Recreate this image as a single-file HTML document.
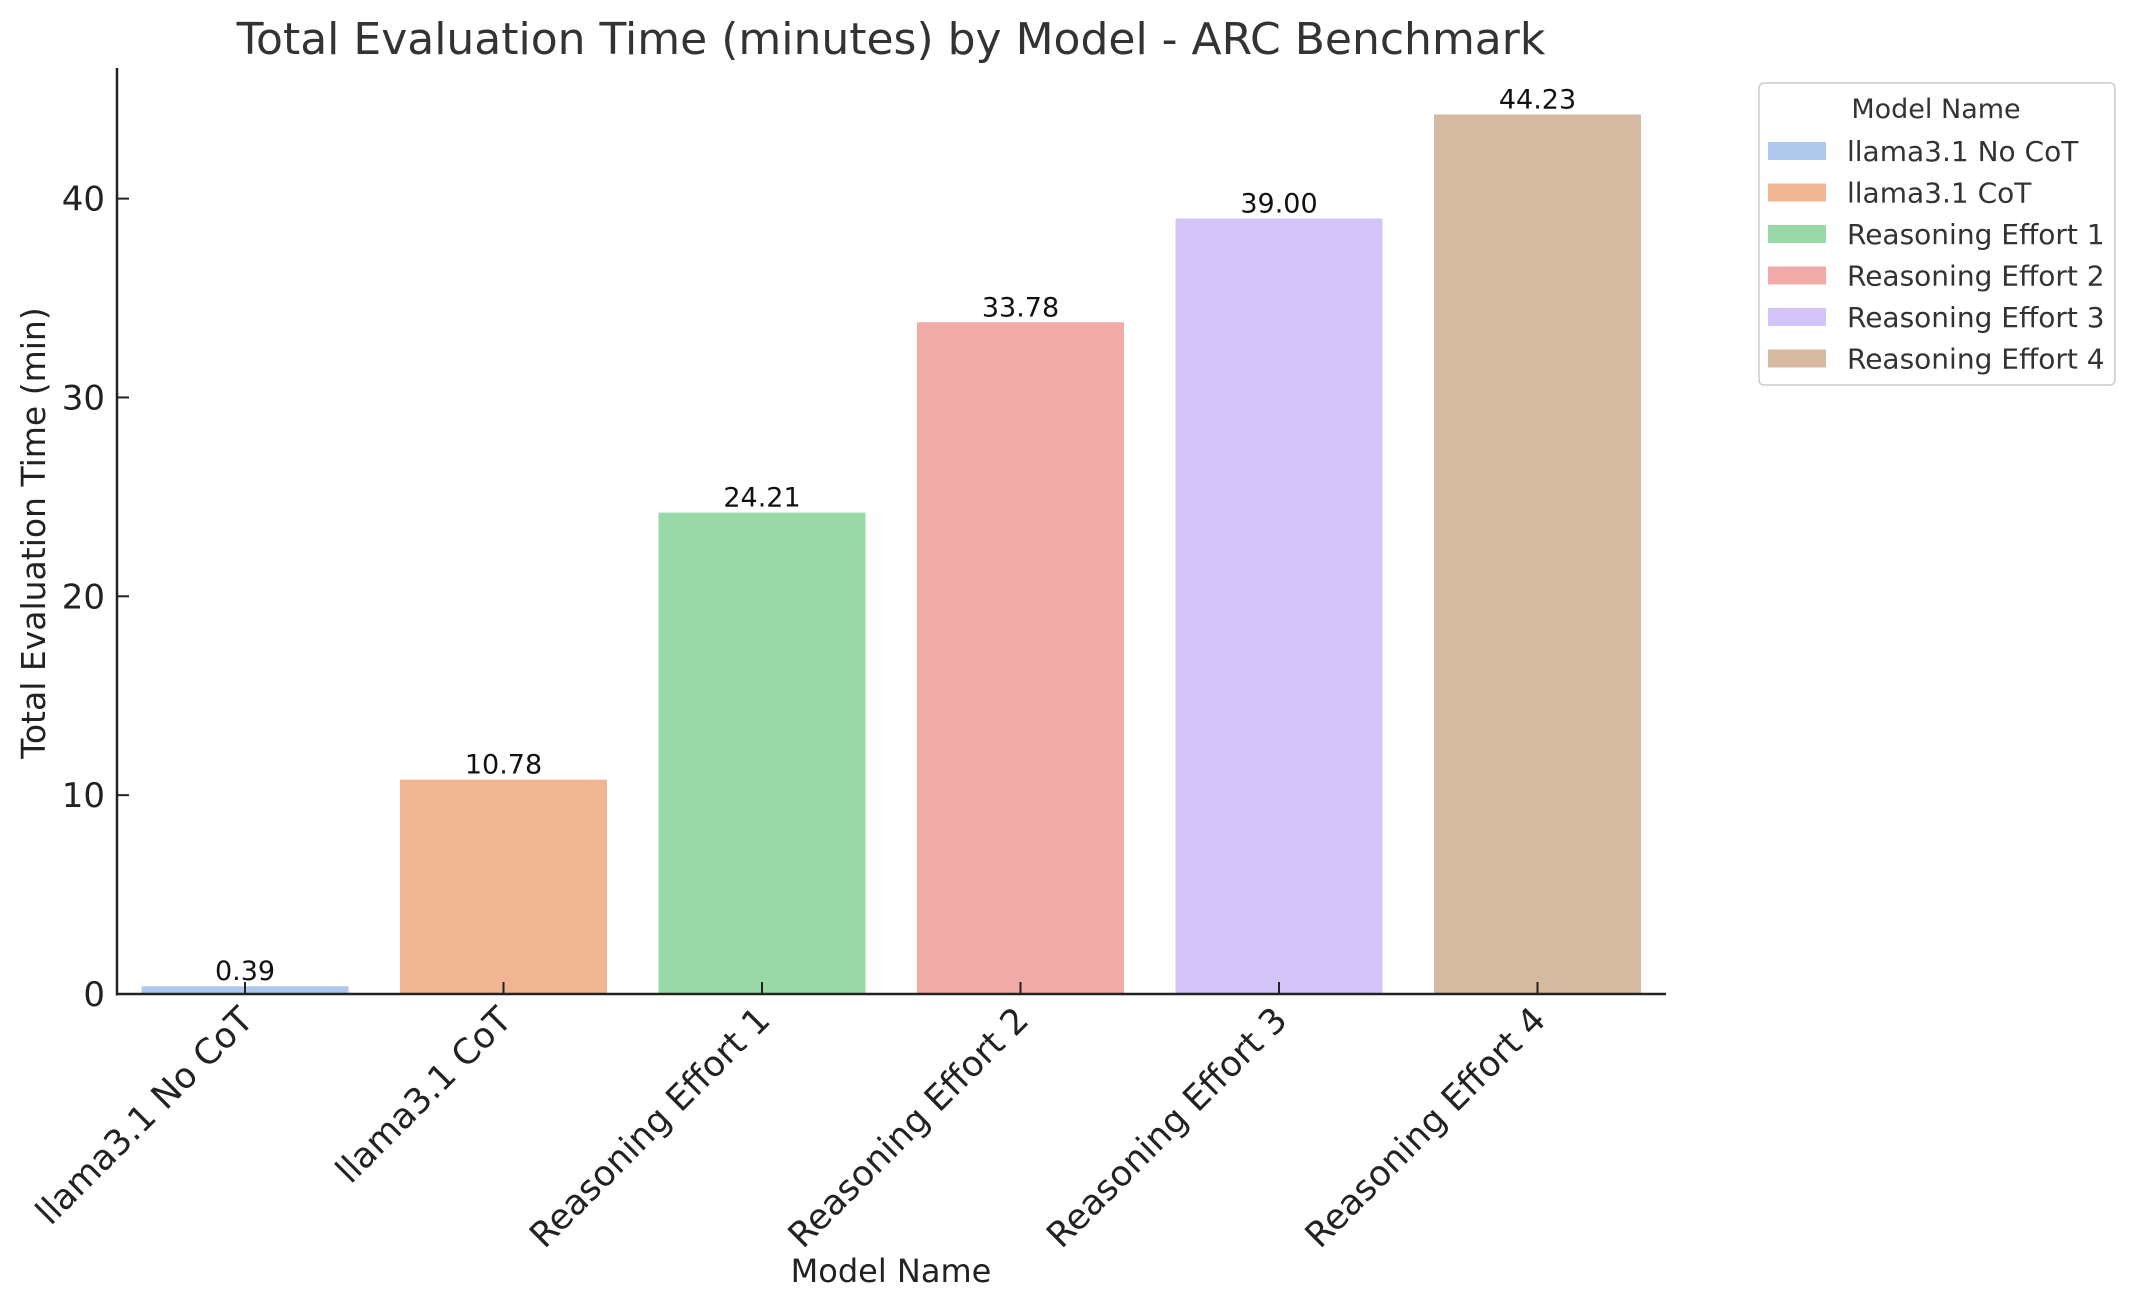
<!DOCTYPE html>
<html><head><meta charset="utf-8"><style>
html,body{margin:0;padding:0;background:#fff}
svg{display:block;font-family:"DejaVu Sans","Liberation Sans",sans-serif}
</style></head><body>
<svg id="chart" width="2133" height="1309" viewBox="0 0 2133 1309">
<text x="891" y="54" font-size="44" text-anchor="middle" fill="#333">Total Evaluation Time (minutes) by Model - ARC Benchmark</text>
<g id="bars"></g>
<g id="axes"></g>
<text transform="translate(45,533) rotate(-90)" font-size="33" text-anchor="middle" fill="#222">Total Evaluation Time (min)</text>
<text x="891" y="1282" font-size="32" text-anchor="middle" fill="#222">Model Name</text>
<g id="legend">
<rect x="1759" y="83" width="356" height="302" rx="5" fill="#fff" stroke="#ccc" stroke-width="1.5"/>
<text x="1936" y="118" font-size="27" text-anchor="middle" fill="#333">Model Name</text>
</g>
</svg>
<script>
const categories=["llama3.1 No CoT","llama3.1 CoT","Reasoning Effort 1","Reasoning Effort 2","Reasoning Effort 3","Reasoning Effort 4"];
const values=[0.39,10.78,24.21,33.78,39.00,44.23];
const valueLabels=["0.39","10.78","24.21","33.78","39.00","44.23"];
const yTicks=[0,10,20,30,40];
const colors=["#aec9ec","#f0b592","#99d9a7","#f1aaa8","#d2c4f6","#d5b9a0"];
const NS="http://www.w3.org/2000/svg";
const x0=117,x1=1666,yZero=994,pxPerUnit=19.885,step=258.5,firstC=245,bw=207;
const X=i=>firstC+i*step;
const Y=v=>yZero-v*pxPerUnit;
function mk(t,a,p){const e=document.createElementNS(NS,t);for(const k in a)e.setAttribute(k,a[k]);p.appendChild(e);return e;}
const bars=document.getElementById('bars'),axes=document.getElementById('axes'),leg=document.getElementById('legend');
categories.forEach((c,i)=>{
  const r=mk('rect',{x:X(i)-bw/2,y:Y(values[i]),width:bw,height:yZero-Y(values[i]),fill:colors[i]},bars);
  
  
  const t=mk('text',{x:X(i),y:Y(values[i])-6,'font-size':27,'text-anchor':'middle',fill:'#111'},bars);
  t.textContent=valueLabels[i];
  
  
  mk('line',{x1:X(i),x2:X(i),y1:yZero,y2:yZero-12,stroke:'#222','stroke-width':2},axes);
  const xl=mk('text',{transform:`translate(${X(i)+10},${yZero+28}) rotate(-45)`,'font-size':35,'text-anchor':'end',fill:'#222'},axes);
  xl.textContent=c;
  
  
  const ly=151+i*41.5;
  mk('rect',{x:1768,y:ly-9,width:58,height:18,fill:colors[i]},leg);
  const lt=mk('text',{x:1847,y:ly+10,'font-size':28,fill:'#333'},leg);
  lt.textContent=c;
  
  
});
yTicks.forEach(v=>{
  mk('line',{x1:x0,x2:x0+12,y1:Y(v),y2:Y(v),stroke:'#222','stroke-width':2},axes);
  const t=mk('text',{x:x0-12,y:Y(v)+12,'font-size':34,'text-anchor':'end',fill:'#222'},axes);
  t.textContent=v;
  
  
});
mk('line',{x1:x0,x2:x0,y1:68,y2:yZero+1.5,stroke:'#222','stroke-width':2.5},axes);
mk('line',{x1:x0,x2:x1,y1:yZero,y2:yZero,stroke:'#222','stroke-width':2.5},axes);
</script>
</body></html>
